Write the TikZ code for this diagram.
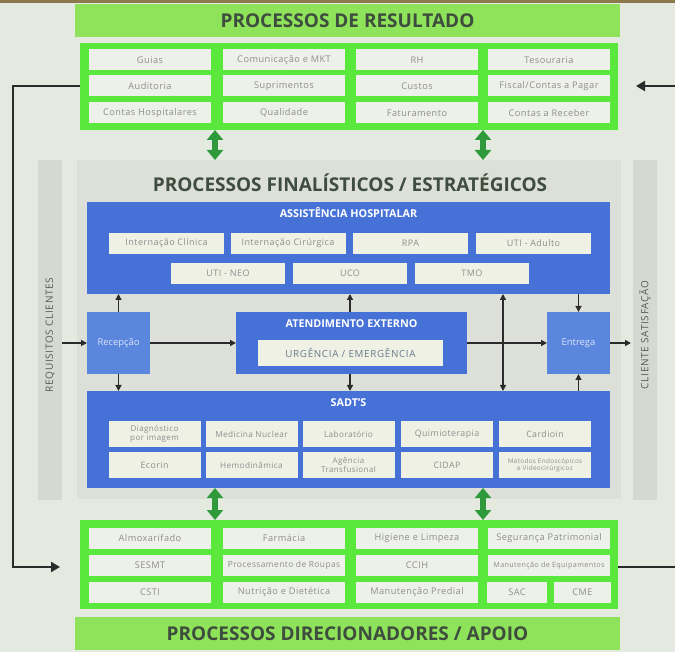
\documentclass[tikz,border=0pt]{standalone}
\usepackage{fontspec}
\setmainfont{Open Sans}
\newfontfamily\cellfont[LetterSpace=5]{Open Sans}
\newfontfamily\widefont[LetterSpace=7]{Open Sans}
\usetikzlibrary{arrows.meta}
\definecolor{bgc}{HTML}{E5EAE1}
\definecolor{topband}{HTML}{8C7A4E}
\definecolor{hdrgreen}{HTML}{8EE35A}
\definecolor{boxgreen}{HTML}{5BE83C}
\definecolor{cellfill}{HTML}{EEF0EA}
\definecolor{celltext}{HTML}{8E8E8E}
\definecolor{titletext}{HTML}{3E4D3E}
\definecolor{panelc}{HTML}{DDE0D9}
\definecolor{bandc}{HTML}{D6D9D2}
\definecolor{bluebox}{HTML}{4672D8}
\definecolor{bluelight}{HTML}{5A86DE}
\definecolor{bluecell}{HTML}{EEF1E4}
\definecolor{arrowgreen}{HTML}{2F9A3B}
\definecolor{linec}{HTML}{2B2B2B}
\definecolor{urgtext}{HTML}{6B7B8C}
\begin{document}
\begin{tikzpicture}[x=1pt,y=-1pt,
  every node/.style={inner sep=0pt, outer sep=0pt},
  hdrbar/.style={fill=hdrgreen, minimum width=545pt, minimum height=33pt, text=titletext, font=\fontsize{19}{21}\selectfont\bfseries},
  gbox/.style={fill=boxgreen},
  gcell/.style={fill=cellfill, minimum width=122pt, minimum height=21pt, text=celltext, font=\cellfont\fontsize{9.2}{10}\selectfont},
  bbox/.style={fill=bluebox},
  bcell/.style={fill=bluecell, text=celltext, font=\cellfont\fontsize{8.2}{8}\selectfont, align=center},
  acell/.style={bcell, minimum width=115pt, minimum height=21pt, font=\cellfont\fontsize{9}{9}\selectfont},
  scell/.style={bcell, minimum width=92pt, minimum height=26pt},
  bhead/.style={text=white, font=\fontsize{10.8}{12}\selectfont\bfseries},
  lbox/.style={fill=bluelight, minimum width=63pt, minimum height=62pt, text=white!78!bluelight, font=\fontsize{9.4}{10}\selectfont},
  sidetext/.style={text=titletext!90, font=\widefont\fontsize{10}{11}\selectfont, rotate=90},
  garrow/.style={draw=arrowgreen, line width=5.5pt, {Triangle[width=16pt,length=10pt]}-{Triangle[width=16pt,length=10pt]}},
  karrow/.style={draw=linec, line width=1.3pt, -{Triangle[width=6pt,length=6pt]}},
  kkarrow/.style={draw=linec, line width=1.3pt, {Triangle[width=6pt,length=6pt]}-{Triangle[width=6pt,length=6pt]}},
  fline/.style={draw=linec, line width=2.4pt},
  farrow/.style={draw=linec, line width=2.4pt, -{Triangle[width=10pt,length=9pt]}}
]
\useasboundingbox (0,0) rectangle (675,652);
\fill[bgc] (0,0) rectangle (675,652);
\fill[topband] (0,0) rectangle (675,3);

% ---------- top: processos de resultado ----------
\node[hdrbar] (tophdr) at (347.5,20.5) {PROCESSOS DE RESULTADO};
\node[gbox, minimum width=538pt, minimum height=87pt] (topbox) at (349,86.5) {};
\node[gcell] (t11) at (150,60) {Guias};
\node[gcell] (t12) at (284,60) {Comunicação e MKT};
\node[gcell] (t13) at (417,60) {RH};
\node[gcell] (t14) at (549,60) {Tesouraria};
\node[gcell] (t21) at (150,86) {Auditoria};
\node[gcell] (t22) at (284,86) {Suprimentos};
\node[gcell] (t23) at (417,86) {Custos};
\node[gcell] (t24) at (549,86) {Fiscal/Contas a Pagar};
\node[gcell] (t31) at (150,113) {Contas Hospitalares};
\node[gcell] (t32) at (284,113) {Qualidade};
\node[gcell] (t33) at (417,113) {Faturamento};
\node[gcell] (t34) at (549,113) {Contas a Receber};

% ---------- middle panel ----------
\node[fill=bandc, minimum width=24pt, minimum height=340pt] (lband) at (50,330) {};
\node[fill=bandc, minimum width=24pt, minimum height=340pt] (rband) at (645,330) {};
\node[sidetext] (req) at (50,335) {REQUISITOS CLIENTES};
\node[sidetext] (sat) at (645,335) {CLIENTE SATISFAÇÃO};
\node[fill=panelc, minimum width=544pt, minimum height=339pt] (panel) at (349,329.5) {};
\node[text=titletext, font=\fontsize{19}{21}\selectfont\bfseries] (midtitle) at (350,183) {PROCESSOS FINALÍSTICOS / ESTRATÉGICOS};

% assistencia hospitalar
\node[bbox, minimum width=523pt, minimum height=92pt] (assist) at (348.5,248) {};
\node[bhead] (assisth) at (348.5,213) {ASSISTÊNCIA HOSPITALAR};
\node[acell] (a11) at (166.5,243.5) {Internação Clínica};
\node[acell] (a12) at (288,243.5) {Internação Cirúrgica};
\node[acell] (a13) at (410.5,243.5) {RPA};
\node[acell] (a14) at (533.5,243.5) {UTI - Adulto};
\node[acell, minimum width=114pt] (a21) at (228,273.5) {UTI - NEO};
\node[acell, minimum width=114pt] (a22) at (350,273.5) {UCO};
\node[acell, minimum width=114pt] (a23) at (472,273.5) {TMO};

% middle row
\node[lbox] (recep) at (118.5,343) {Recepção};
\node[bbox, minimum width=231pt, minimum height=62pt] (atend) at (351.5,343) {};
\node[bhead] (atendh) at (351.5,324) {ATENDIMENTO EXTERNO};
\node[fill=bluecell, minimum width=185pt, minimum height=26pt, text=urgtext, font=\widefont\fontsize{9.8}{10}\selectfont] (urg) at (350.5,353) {URGÊNCIA / EMERGÊNCIA};
\node[lbox] (entrega) at (578.5,343) {Entrega};

% sadt
\node[bbox, minimum width=523pt, minimum height=97pt] (sadt) at (348.5,439.5) {};
\node[bhead] (sadth) at (348.5,403) {SADT'S};
\node[scell, font=\cellfont\fontsize{8}{7.6}\selectfont] (s11) at (154.5,434) {Diagnóstico\\por imagem};
\node[scell] (s12) at (251.5,434) {Medicina Nuclear};
\node[scell] (s13) at (348.5,434) {Laboratório};
\node[scell, font=\cellfont\fontsize{8.8}{8}\selectfont] (s14) at (447,434) {Quimioterapia};
\node[scell, font=\cellfont\fontsize{8.8}{8}\selectfont] (s15) at (545,434) {Cardioin};
\node[scell, font=\cellfont\fontsize{8.8}{8}\selectfont] (s21) at (154.5,465) {Ecorin};
\node[scell] (s22) at (251.5,465) {Hemodinâmica};
\node[scell, font=\cellfont\fontsize{8}{7.6}\selectfont] (s23) at (348.5,465) {Agência\\Transfusional};
\node[scell, font=\cellfont\fontsize{8.8}{8}\selectfont] (s24) at (447,465) {CIDAP};
\node[scell, font=\cellfont\fontsize{6.4}{6.8}\selectfont] (s25) at (545,465) {Métodos Endoscópicos\\e Videocirúrgicos};

% ---------- bottom: processos direcionadores ----------
\node[gbox, minimum width=538pt, minimum height=89pt] (botbox) at (349,564.5) {};
\node[gcell] (b11) at (150,538.5) {Almoxarifado};
\node[gcell] (b12) at (284,538.5) {Farmácia};
\node[gcell] (b13) at (417,538.5) {Higiene e Limpeza};
\node[gcell] (b14) at (549,538.5) {Segurança Patrimonial};
\node[gcell] (b21) at (150,565.5) {SESMT};
\node[gcell, font=\cellfont\fontsize{8.4}{9}\selectfont] (b22) at (284,565.5) {Processamento de Roupas};
\node[gcell] (b23) at (417,565.5) {CCIH};
\node[gcell, font=\cellfont\fontsize{7.2}{9}\selectfont] (b24) at (549,565.5) {Manutenção de Equipamentos};
\node[gcell] (b31) at (150,592.5) {CSTI};
\node[gcell] (b32) at (284,592.5) {Nutrição e Dietética};
\node[gcell] (b33) at (417,592.5) {Manutenção Predial};
\node[gcell, minimum width=60pt] (b34) at (517,592.5) {SAC};
\node[gcell, minimum width=57pt] (b35) at (582.5,592.5) {CME};
\node[hdrbar] (bothdr) at (347.5,633.5) {PROCESSOS DIRECIONADORES / APOIO};

% ---------- green double arrows ----------
\draw[garrow] (topbox.south -| 215,0) -- (panel.north -| 215,0);
\draw[garrow] (topbox.south -| 483,0) -- (panel.north -| 483,0);
\draw[garrow] (sadt.south -| 215,0) -- (botbox.north -| 215,0);
\draw[garrow] (sadt.south -| 483,0) -- (botbox.north -| 483,0);

% ---------- black flow arrows ----------
\coordinate (inL) at (62,343);
\coordinate (outR) at (631,343);
\draw[karrow] (inL) -- (recep.west);
\draw[karrow] (recep.east) -- (atend.west);
\draw[karrow] (atend.east) -- (entrega.west);
\draw[karrow] (entrega.east) -- (outR);
\draw[karrow] (recep.north) -- (recep.north |- assist.south);
\draw[karrow] (recep.south) -- (recep.south |- sadt.north);
\draw[karrow] (atend.north -| 350,0) -- (assist.south -| 350,0);
\draw[karrow] (atend.south -| 350,0) -- (sadt.north -| 350,0);
\draw[kkarrow] (assist.south -| 503,0) -- (sadt.north -| 503,0);
\draw[karrow] (assist.south -| entrega.north) -- (entrega.north);
\draw[karrow] (sadt.north -| entrega.south) -- (entrega.south);

% ---------- feedback lines ----------
\coordinate (lcorner1) at (13,86);
\coordinate (lcorner2) at (13,567);
\coordinate (ltip) at (60,567);
\draw[farrow] (topbox.west |- 0,86) -- (lcorner1) -- (lcorner2) -- (ltip);
\coordinate (rend) at (675,567);
\draw[fline] (botbox.east |- 0,567) -- (rend);
\coordinate (rstart) at (675,86);
\coordinate (rtip) at (636,86);
\draw[farrow] (rstart) -- (rtip);
\end{tikzpicture}
\end{document}
